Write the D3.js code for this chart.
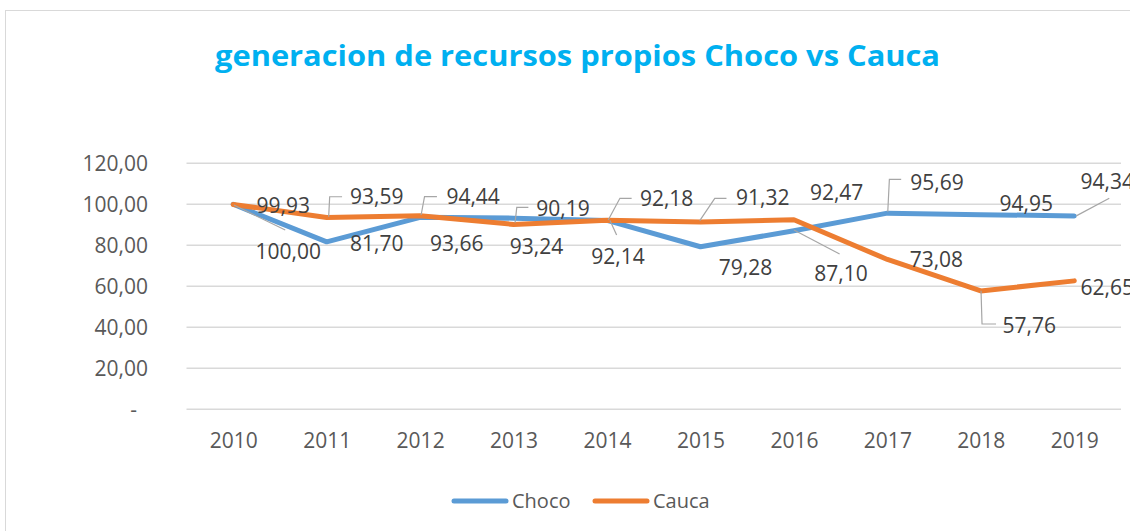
<!DOCTYPE html>
<html>
<head>
<meta charset="utf-8">
<script src="https://cdn.jsdelivr.net/npm/d3@7"></script>
<style>
  html, body { margin: 0; padding: 0; background: #fff; }
  svg { display: block; }
</style>
</head>
<body>
<svg id="chart" width="1130" height="531"></svg>
<script>
// ---- data ----
const years = ["2010", "2011", "2012", "2013", "2014", "2015", "2016", "2017", "2018", "2019"];
const choco = [100.00, 81.70, 93.66, 93.24, 92.14, 79.28, 87.10, 95.69, 94.95, 94.34];
const cauca = [99.93, 93.59, 94.44, 90.19, 92.18, 91.32, 92.47, 73.08, 57.76, 62.65];
const yTicks = [0, 20, 40, 60, 80, 100, 120];
const seriesNames = ["Choco", "Cauca"];
const titleText = "generacion de recursos propios Choco vs Cauca";

// ---- label layout (offsets of label centre from point, leader polylines) ----
const chocoLabelOffsets = [[55, 47], [50, 1.5], [36.6, 26], [23, 28], [11, 36], [45, 21], [47, 43], [49.6, -30.6], [45.5, -10.7], [33, -34]];
const chocoLeaders = [[[0.6, 0.7], [52, 25.7]], null, null, null, [[3, 0], [9.6, 14.6]], null, [[0, -0.7], [45.7, 23.3]], [[0.4, -1.4], [2, -33.8], [13.8, -33.8]], null, [[2, 0], [35, -17.6]]];
const caucaLabelOffsets = [[50, 1], [50, -21], [53, -19], [49.5, -16.4], [59.6, -22.3], [62.3, -24.6], [42.7, -27.2], [49, 0.5], [48.5, 34.6], [33, 7]];
const caucaLeaders = [null, [[2, -0.7], [3, -20.7], [15.4, -20.7]], [[1, -0.7], [4.4, -19], [16.8, -19]], [[1.5, -1.7], [3.2, -17], [14.8, -17]], [[1.2, -0.3], [12.9, -22], [24.6, -22]], [[-0.7, -1.4], [14.3, -23.8], [26, -23.8]], null, null, [[0.2, -0.2], [1.2, 33.1], [15.2, 33.1]], null];

const colors = { Choco: "#5B9BD5", Cauca: "#ED7D31" };
const font = "'Open Sans', 'DejaVu Sans', sans-serif";

const svg = d3.select("#chart");
svg.append("rect").attr("x", 0).attr("y", 0).attr("width", 1130).attr("height", 531).attr("fill", "#fff");
// chart frame
svg.append("rect").attr("x", 5.5).attr("y", 10.5).attr("width", 1300).attr("height", 700)
  .attr("fill", "#fff").attr("stroke", "#D9D9D9").attr("stroke-width", 1);

// title
const title = svg.append("text").attr("x", 577.5).attr("y", 66).attr("text-anchor", "middle")
  .attr("font-family", font).attr("font-weight", "bold").attr("font-size", 28)
  .attr("fill", "#00B0F0").text(titleText);
const tw = title.node().getComputedTextLength();
if (Math.abs(tw - 725) > 5) title.attr("textLength", 725).attr("lengthAdjust", "spacingAndGlyphs");

// scales
const x = d3.scalePoint().domain(years).range([186.5, 1121]).padding(0.5);
const y = d3.scaleLinear().domain([0, 120]).range([409.3, 163.3]);

const numFmt = v => d3.format(".2f")(v).replace(".", ",");

// gridlines
svg.append("g").selectAll("line").data(yTicks).join("line")
  .attr("x1", 186.5).attr("x2", 1121)
  .attr("y1", d => y(d)).attr("y2", d => y(d))
  .attr("stroke", "#D9D9D9").attr("stroke-width", 1.5);

// y axis
const yAxis = svg.append("g").attr("transform", "translate(148,0)")
  .call(d3.axisLeft(y).tickValues(yTicks).tickSize(0).tickPadding(0)
    .tickFormat(d => d === 0 ? "-" : numFmt(d)));
yAxis.select(".domain").remove();
yAxis.selectAll("text").attr("font-family", font).attr("font-size", 21).attr("fill", "#595959")
  .attr("dy", "0.36em")
  .attr("x", d => d === 0 ? -11 : 0);

// x axis
const xAxis = svg.append("g").attr("transform", "translate(0,409.3)")
  .call(d3.axisBottom(x).tickSize(0).tickPadding(0));
xAxis.select(".domain").remove();
xAxis.selectAll("text").attr("font-family", font).attr("font-size", 21).attr("fill", "#595959")
  .attr("dy", 0).attr("y", 38.5);

// lines
const line = d3.line().x((d, i) => x(years[i])).y(d => y(d));
const series = [
  { name: "Choco", values: choco, offs: chocoLabelOffsets, leaders: chocoLeaders },
  { name: "Cauca", values: cauca, offs: caucaLabelOffsets, leaders: caucaLeaders }
];
svg.append("g").selectAll("path").data(series).join("path")
  .attr("d", s => line(s.values))
  .attr("fill", "none").attr("stroke", s => colors[s.name])
  .attr("stroke-width", 5).attr("stroke-linejoin", "round").attr("stroke-linecap", "round");

// leader lines and labels
const lg = svg.append("g");
series.forEach(s => {
  s.values.forEach((v, i) => {
    const px = x(years[i]), py = y(v);
    const ld = s.leaders[i];
    if (ld) {
      lg.append("polyline")
        .attr("points", ld.map(p => (px + p[0]) + "," + (py + p[1])).join(" "))
        .attr("fill", "none").attr("stroke", "#A6A6A6").attr("stroke-width", 1.2);
    }
  });
});
series.forEach(s => {
  s.values.forEach((v, i) => {
    const px = x(years[i]), py = y(v);
    const o = s.offs[i];
    lg.append("text").attr("x", px + o[0]).attr("y", py + o[1] + 7.5)
      .attr("text-anchor", "middle").attr("font-family", font).attr("font-size", 21)
      .attr("fill", "#404040").text(numFmt(v));
  });
});

// legend
const legendItems = [
  { name: seriesNames[0], x1: 454, x2: 506, tx: 512 },
  { name: seriesNames[1], x1: 595, x2: 647, tx: 653 }
];
const leg = svg.append("g");
legendItems.forEach(it => {
  leg.append("line").attr("x1", it.x1).attr("x2", it.x2).attr("y1", 501).attr("y2", 501)
    .attr("stroke", colors[it.name]).attr("stroke-width", 5).attr("stroke-linecap", "round");
  leg.append("text").attr("x", it.tx).attr("y", 508).attr("font-family", font).attr("font-size", 20)
    .attr("fill", "#595959").text(it.name);
});
</script>
</body>
</html>
